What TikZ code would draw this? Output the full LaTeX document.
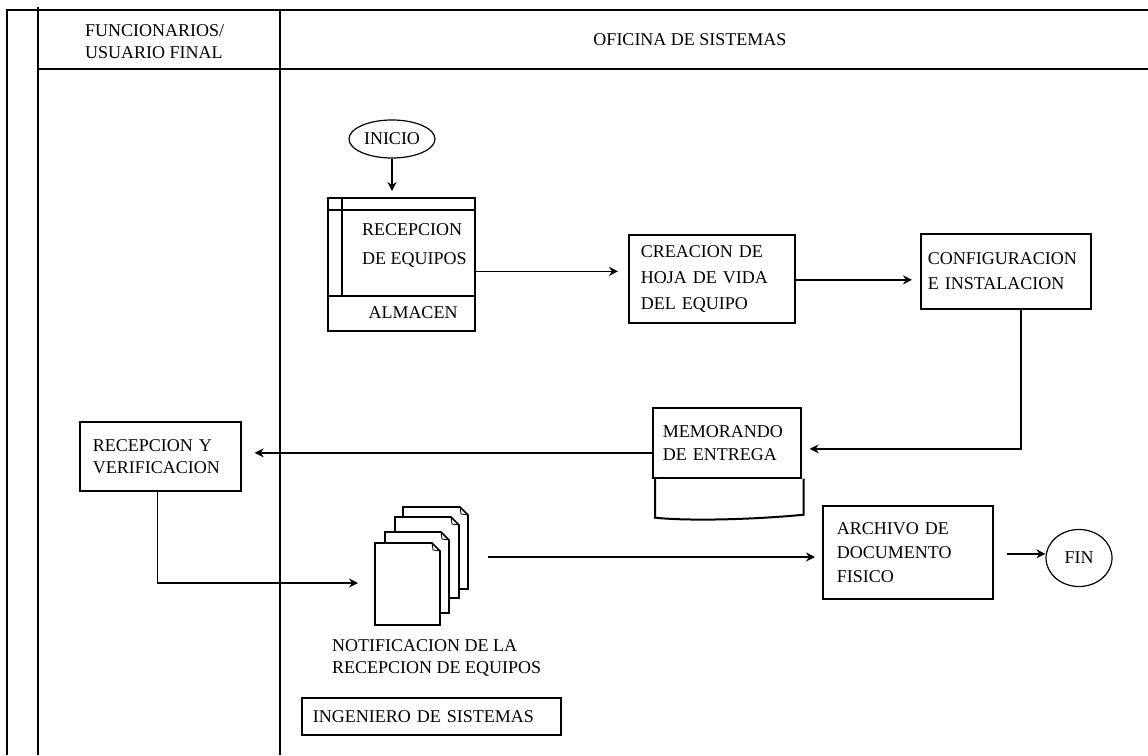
\documentclass[tikz,border=0pt]{standalone}
\usepackage{fontspec}
\setmainfont{Liberation Serif}
\usetikzlibrary{shapes.geometric,arrows.meta,calc}
\begin{document}
\begin{tikzpicture}[x=1pt,y=-1pt,
  every node/.style={font=\fontsize{18}{22}\selectfont},
  frame/.style={line width=1.8pt},
  box/.style={draw, line width=1.7pt, rectangle, align=left, anchor=north west, inner xsep=12pt, inner ysep=0pt},
  oval/.style={draw, ellipse, line width=1.2pt, inner sep=0pt},
  arr/.style={-{Stealth[length=9pt,width=9pt,inset=3pt]}, line width=1.7pt},
  plain/.style={inner sep=0pt, align=left}]
\fill[white] (0,0) rectangle (1148,755);
\useasboundingbox (0,0) rectangle (1148,755);
% frame / swimlanes
\draw[frame] (7,755) -- (7,10) -- (1148,10);
\draw[frame] (38,7) -- (38,755);
\draw[frame] (280,10) -- (280,755);
\draw[frame] (38,69) -- (1148,69);
\node[plain, anchor=west] (h1) at (85,42) {FUNCIONARIOS/\\USUARIO FINAL};
\node[plain] (h2) at (690,40) {OFICINA DE SISTEMAS};
% INICIO
\node[oval, minimum width=86pt, minimum height=38pt] (inicio) at (392,139) {INICIO};
% ALMACEN compound box
\node[draw, line width=1.7pt, anchor=north west, minimum width=147pt, minimum height=133pt, inner sep=0pt] (alm) at (327,197) {};
\draw[line width=1.7pt] ([yshift=-13pt]alm.north west) -- ([yshift=-13pt]alm.north east);
\draw[line width=1.7pt] ([yshift=36pt]alm.south west) -- ([yshift=36pt]alm.south east);
\draw[line width=1.7pt] ([xshift=15pt]alm.north west) -- ([xshift=15pt,yshift=36pt]alm.south west);
\node[plain, anchor=north west, font=\fontsize{18}{29}\selectfont] (recq) at (362,223) {RECEPCION\\DE EQUIPOS};
\node[plain] (almt) at (413,313) {ALMACEN};
\draw[arr, shorten >=6pt] (inicio.south) -- (inicio.south |- alm.north);
% CREACION
\node[box, minimum width=166pt, minimum height=88pt, text width=142pt, font=\fontsize{18}{26}\selectfont] (crea) at (628,234) {CREACION DE\\HOJA DE VIDA\\DEL EQUIPO\\[-12pt]};
% CONFIGURACION
\node[box, minimum width=170pt, minimum height=75pt, text width=156pt, inner xsep=7pt, font=\fontsize{18}{25}\selectfont] (conf) at (920,233) {CONFIGURACION\\E INSTALACION\\[2pt]};
% MEMORANDO
\node[box, minimum width=148pt, minimum height=70pt, text width=128pt, inner xsep=10pt, font=\fontsize{18}{23}\selectfont] (memo) at (652,407) {MEMORANDO\\DE ENTREGA};
\draw[line width=2pt] ([xshift=3pt]memo.south west) -- ([xshift=3pt,yshift=-39pt]memo.south west)
  .. controls +(40,4) and +(-40,4) .. ([xshift=2pt,yshift=-36pt]memo.south east) -- ([xshift=2pt]memo.south east);
% RECEPCION Y VERIFICACION
\node[box, minimum width=161pt, minimum height=69pt, text width=135pt, inner xsep=13pt] (recep) at (79,421) {RECEPCION Y\\VERIFICACION\\[4pt]};
% documents stack
\foreach \xa/\ya/\xb/\yb in {403/507/468/589, 395/517/459/598, 385/532/449/613, 375/543/440/625}{
  \filldraw[fill=white, line width=1.7pt] (\xa,\ya) -- ({\xb-8},\ya) -- (\xb,{\ya+8}) -- (\xb,\yb) -- (\xa,\yb) -- cycle;
  \draw[line width=0.8pt] ({\xb-8},\ya) -- ({\xb-7},{\ya+7}) -- (\xb,{\ya+8});
}
\coordinate (docin) at (358,583);
\coordinate (docout) at (488,557);
\node[plain, anchor=north west] (notif) at (332,639) {NOTIFICACION DE LA\\RECEPCION DE EQUIPOS};
\node[box, minimum width=259pt, minimum height=37pt, text width=237pt, inner xsep=11pt] (ing) at (301,697) {INGENIERO DE SISTEMAS};
% ARCHIVO
\node[box, minimum width=170pt, minimum height=93pt, text width=142pt, inner xsep=14pt, font=\fontsize{18}{24}\selectfont] (arch) at (822,505) {ARCHIVO DE\\DOCUMENTO\\FISICO\\[-4pt]};
% FIN
\node[oval, minimum width=66pt, minimum height=57pt] (fin) at (1079,558) {FIN};
% connectors
\coordinate (a0) at ([yshift=-7pt]alm.east);
\draw[arr, shorten >=10pt] (a0) -- (a0 -| crea.west);
\coordinate (c0) at ([yshift=-1pt]crea.east);
\draw[arr, shorten >=8pt] (c0) -- (c0 -| conf.west);
\coordinate (m0) at ([xshift=8pt,yshift=-6pt]memo.east);
\draw[arr] ([xshift=15pt]conf.south) |- (m0);
\coordinate (m1) at ([yshift=-10pt]memo.west);
\draw[arr, shorten >=13pt] (m1) -- (m1 -| recep.east);
\draw[arr] ([xshift=-3pt]recep.south) |- (docin);
\draw[arr, shorten >=7pt] (docout) -- (docout -| arch.west);
\coordinate (f0) at ([xshift=13pt,yshift=-1.5pt]arch.east);
\draw[arr] (f0) -- (f0 -| fin.west);
\end{tikzpicture}
\end{document}
